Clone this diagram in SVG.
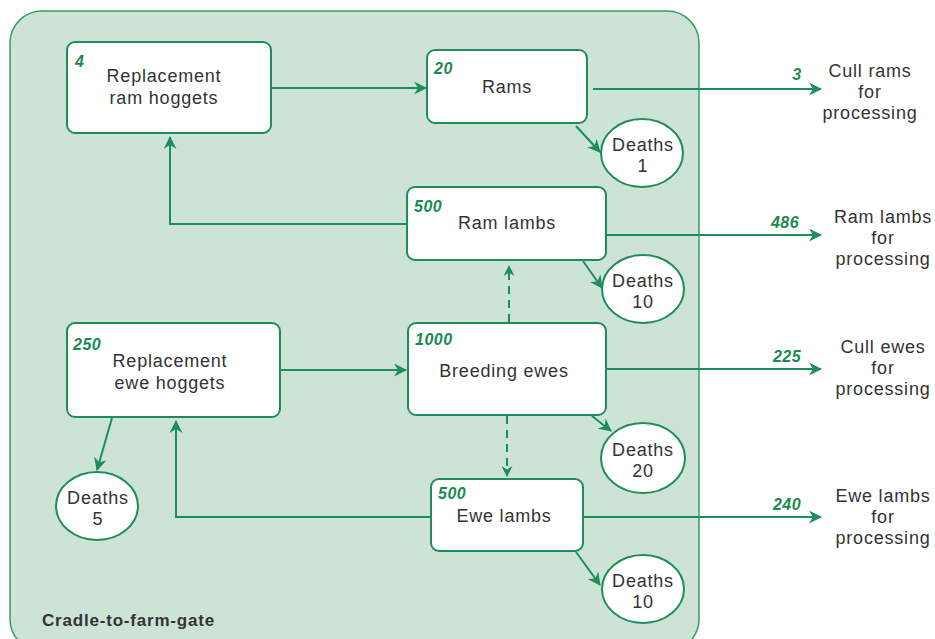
<svg xmlns="http://www.w3.org/2000/svg" width="935" height="639" viewBox="0 0 935 639">
  <style>
    .box { fill: #ffffff; stroke: #1f8c5c; stroke-width: 2; }
    .oval { fill: #ffffff; stroke: #1f8c5c; stroke-width: 2; }
    .lbl { font-family: "Liberation Sans", Arial, sans-serif; font-size: 18px; fill: #333333; text-anchor: middle; letter-spacing: 0.8px; }
    .num { font-family: "Liberation Sans", Arial, sans-serif; font-size: 16px; font-weight: bold; font-style: italic; fill: #1a8a50; letter-spacing: 0.5px; }
    .line { fill: none; stroke: #1f8c5c; stroke-width: 2; }
    .dash { fill: none; stroke: #1f8c5c; stroke-width: 2; stroke-dasharray: 8 6; }
  </style>
  <defs>
    <marker id="arrow" markerUnits="userSpaceOnUse" markerWidth="13" markerHeight="13" refX="12" refY="6.5" orient="auto">
      <path d="M0,0 L13,6.5 L0,13 L4,6.5 z" fill="#1f8c5c"/>
    </marker>
    <marker id="arrowSmall" markerUnits="userSpaceOnUse" markerWidth="11" markerHeight="11" refX="10" refY="5.5" orient="auto">
      <path d="M0,0 L11,5.5 L0,11 L3.5,5.5 z" fill="#1f8c5c"/>
    </marker>
  </defs>

  <!-- system boundary -->
  <g id="boundary">
    <rect x="10" y="11" width="689" height="640" rx="32" fill="#cde3d6" stroke="#3a9c6c" stroke-width="1.5"/>
    <text x="42" y="626" font-family="Liberation Sans, Arial, sans-serif" font-size="17" font-weight="bold" letter-spacing="0.8" fill="#333333">Cradle-to-farm-gate</text>
  </g>

  <!-- connectors -->
  <g id="connectors">
    <line class="line" x1="271" y1="88" x2="426" y2="88" marker-end="url(#arrow)"/>
    <line class="line" x1="576" y1="126" x2="600" y2="152" marker-end="url(#arrow)"/>
    <line class="line" x1="593" y1="89" x2="821" y2="89" marker-end="url(#arrow)"/>
    <polyline class="line" points="407,224 170,224 170,137" marker-end="url(#arrow)"/>
    <line class="line" x1="583" y1="261" x2="602" y2="288" marker-end="url(#arrow)"/>
    <line class="line" x1="606" y1="235" x2="821" y2="235" marker-end="url(#arrow)"/>
    <line class="dash" x1="509" y1="322" x2="509" y2="266" marker-end="url(#arrowSmall)"/>
    <line class="line" x1="280" y1="370" x2="406" y2="370" marker-end="url(#arrow)"/>
    <line class="line" x1="606" y1="369" x2="821" y2="369" marker-end="url(#arrow)"/>
    <line class="line" x1="592" y1="416" x2="611" y2="431" marker-end="url(#arrow)"/>
    <line class="dash" x1="507" y1="416" x2="507" y2="476" marker-end="url(#arrowSmall)"/>
    <polyline class="line" points="431,517 176,517 176,421" marker-end="url(#arrow)"/>
    <line class="line" x1="576" y1="552" x2="600" y2="585" marker-end="url(#arrow)"/>
    <line class="line" x1="583" y1="517" x2="821" y2="517" marker-end="url(#arrow)"/>
    <line class="line" x1="112" y1="418" x2="97" y2="470" marker-end="url(#arrow)"/>
  </g>

  <g id="replacement-ram-hoggets">
    <rect class="box" x="67" y="42" width="204" height="91" rx="8"/>
    <text class="num" x="75" y="67">4</text>
    <text class="lbl" x="164" y="82">Replacement</text>
    <text class="lbl" x="164" y="104">ram hoggets</text>
  </g>

  <g id="rams">
    <rect class="box" x="427" y="50" width="160" height="73" rx="8"/>
    <text class="num" x="434" y="74">20</text>
    <text class="lbl" x="507" y="93">Rams</text>
  </g>

  <g id="rams-deaths">
    <ellipse class="oval" cx="642" cy="153" rx="41" ry="34"/>
    <text class="lbl" x="643" y="151">Deaths</text>
    <text class="lbl" x="643" y="172">1</text>
  </g>

  <g id="ram-lambs">
    <rect class="box" x="407" y="187" width="199" height="73" rx="8"/>
    <text class="num" x="414" y="212">500</text>
    <text class="lbl" x="507" y="229">Ram lambs</text>
  </g>

  <g id="ram-lambs-deaths">
    <ellipse class="oval" cx="643" cy="289" rx="41" ry="34"/>
    <text class="lbl" x="643" y="287">Deaths</text>
    <text class="lbl" x="643" y="308">10</text>
  </g>

  <g id="replacement-ewe-hoggets">
    <rect class="box" x="67" y="323" width="213" height="94" rx="8"/>
    <text class="num" x="73" y="350">250</text>
    <text class="lbl" x="170" y="367">Replacement</text>
    <text class="lbl" x="170" y="389">ewe hoggets</text>
  </g>

  <g id="ewe-hoggets-deaths">
    <ellipse class="oval" cx="97" cy="506" rx="41" ry="34"/>
    <text class="lbl" x="98" y="504">Deaths</text>
    <text class="lbl" x="98" y="525">5</text>
  </g>

  <g id="breeding-ewes">
    <rect class="box" x="408" y="323" width="198" height="92" rx="8"/>
    <text class="num" x="415" y="345">1000</text>
    <text class="lbl" x="504" y="377">Breeding ewes</text>
  </g>

  <g id="breeding-ewes-deaths">
    <ellipse class="oval" cx="643" cy="458" rx="42" ry="35"/>
    <text class="lbl" x="643" y="456">Deaths</text>
    <text class="lbl" x="643" y="477">20</text>
  </g>

  <g id="ewe-lambs">
    <rect class="box" x="431" y="479" width="152" height="72" rx="8"/>
    <text class="num" x="438" y="499">500</text>
    <text class="lbl" x="504" y="522">Ewe lambs</text>
  </g>

  <g id="ewe-lambs-deaths">
    <ellipse class="oval" cx="643" cy="589" rx="41" ry="34"/>
    <text class="lbl" x="643" y="587">Deaths</text>
    <text class="lbl" x="643" y="608">10</text>
  </g>

  <!-- outputs leaving the farm gate -->
  <g id="cull-rams">
    <text class="num" x="797" y="80" text-anchor="middle">3</text>
    <text class="lbl" x="870" y="77">Cull rams</text>
    <text class="lbl" x="870" y="98">for</text>
    <text class="lbl" x="870" y="119">processing</text>
  </g>

  <g id="ram-lambs-out">
    <text class="num" x="785" y="228" text-anchor="middle">486</text>
    <text class="lbl" x="883" y="223">Ram lambs</text>
    <text class="lbl" x="883" y="244">for</text>
    <text class="lbl" x="883" y="265">processing</text>
  </g>

  <g id="cull-ewes">
    <text class="num" x="787" y="362" text-anchor="middle">225</text>
    <text class="lbl" x="883" y="353">Cull ewes</text>
    <text class="lbl" x="883" y="374">for</text>
    <text class="lbl" x="883" y="395">processing</text>
  </g>

  <g id="ewe-lambs-out">
    <text class="num" x="787" y="510" text-anchor="middle">240</text>
    <text class="lbl" x="883" y="502">Ewe lambs</text>
    <text class="lbl" x="883" y="523">for</text>
    <text class="lbl" x="883" y="544">processing</text>
  </g>
</svg>
